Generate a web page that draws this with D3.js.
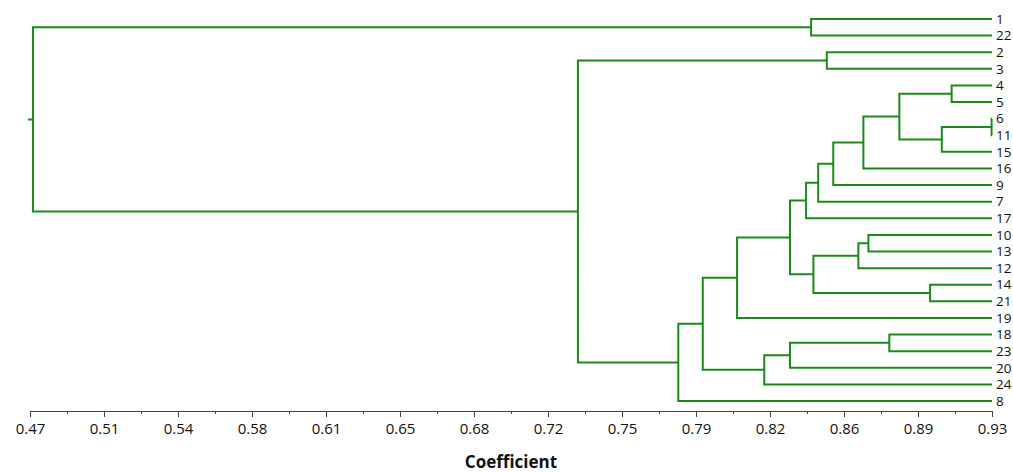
<!DOCTYPE html>
<meta charset="utf-8" />
<head>
  <script src="https://cdn.jsdelivr.net/npm/d3@7/dist/d3.min.js"></script>
  <title>Dendrogram</title>
  <style>
    body { margin: 0; background: #fff; }
    .axis--x path, .axis--x line { stroke: #444; }
    .axis--x text { font-family: "Open Sans", sans-serif; font-size: 15px; fill: #111; }
    .leaf { font-family: "Open Sans", sans-serif; font-size: 13.5px; fill: #111; }
  </style>
</head>
<body>
  <svg id="chart" width="1013" height="472"></svg>
</body>

<script>
  // leaf order, top to bottom
  const leaves = ["1", "22", "2", "3", "4", "5", "6", "11", "15", "16", "9", "7", "17",
    "10", "13", "12", "14", "21", "19", "18", "23", "20", "24", "8"];

  // merges: [id, left, right, coefficient]
  const merges = [
    ["n1", "6", "11", 0.9298],
    ["n2", "n1", "15", 0.906],
    ["n3", "4", "5", 0.9107],
    ["n4", "n3", "n2", 0.8857],
    ["n5", "n4", "16", 0.8685],
    ["n6", "n5", "9", 0.8541],
    ["n7", "n6", "7", 0.8469],
    ["n8", "n7", "17", 0.8411],
    ["n9", "10", "13", 0.8709],
    ["n10", "n9", "12", 0.8661],
    ["n11", "14", "21", 0.9004],
    ["n12", "n10", "n11", 0.8446],
    ["n13", "n8", "n12", 0.8334],
    ["n14", "n13", "19", 0.8081],
    ["n15", "18", "23", 0.8809],
    ["n16", "n15", "20", 0.8334],
    ["n17", "n16", "24", 0.8211],
    ["n18", "n14", "n17", 0.7917],
    ["n19", "n18", "8", 0.78],
    ["n20", "2", "3", 0.851],
    ["n21", "n20", "n19", 0.732],
    ["n22", "1", "22", 0.8435],
    ["n23", "n22", "n21", 0.4714],
  ];

  const tickLabels = ["0.47", "0.51", "0.54", "0.58", "0.61", "0.65", "0.68",
    "0.72", "0.75", "0.79", "0.82", "0.86", "0.89", "0.93"];

  const xMin = 0.47, xMax = 0.93;

  const svg = d3.select("#chart");
  const green = "#1b8a1b";

  const x = d3.scaleLinear().domain([xMin, xMax]).range([30, 992]);
  const y = d3.scalePoint().domain(leaves).range([19, 401]);

  // build node positions
  const pos = {};
  leaves.forEach((l) => (pos[l] = { x: x(xMax), y: y(l) }));

  const g = svg.append("g").attr("class", "tree");
  const path = d3.path();

  merges.forEach(([id, a, b, h]) => {
    const px = x(h);
    const A = pos[a], B = pos[b];
    path.moveTo(A.x, A.y);
    path.lineTo(px, A.y);
    path.lineTo(px, B.y);
    path.lineTo(B.x, B.y);
    pos[id] = { x: px, y: (A.y + B.y) / 2 };
  });

  // small stub at the root
  const root = pos[merges[merges.length - 1][0]];
  path.moveTo(root.x, root.y);
  path.lineTo(root.x - 5, root.y);

  g.append("path")
    .attr("d", path.toString())
    .attr("fill", "none")
    .attr("stroke", green)
    .attr("stroke-width", 2);

  g.selectAll(".leaf")
    .data(leaves)
    .enter()
    .append("text")
    .attr("class", "leaf")
    .attr("x", x(xMax) + 4)
    .attr("y", (d) => y(d))
    .attr("dy", "0.35em")
    .text((d) => d);

  // x axis
  const step = (xMax - xMin) / (tickLabels.length - 1);
  const majors = tickLabels.map((t, i) => xMin + i * step);
  const minors = majors.slice(1).map((v) => v - step / 2);

  const axisY = 411;

  svg
    .append("g")
    .attr("class", "axis--x")
    .attr("transform", `translate(0,${axisY})`)
    .call(d3.axisBottom(x).tickValues(minors).tickSize(3).tickSizeOuter(0).tickFormat(""));

  svg
    .append("g")
    .attr("class", "axis--x")
    .attr("transform", `translate(0,${axisY})`)
    .call(
      d3.axisBottom(x)
        .tickValues(majors)
        .tickSize(6)
        .tickSizeOuter(0)
        .tickPadding(6)
        .tickFormat((d, i) => tickLabels[i])
    );

  svg
    .append("text")
    .attr("x", (x.range()[0] + x.range()[1]) / 2)
    .attr("y", 468)
    .attr("text-anchor", "middle")
    .style("font-family", "'Open Sans', sans-serif")
    .style("font-size", "17px")
    .style("font-weight", "bold")
    .style("fill", "#111")
    .text("Coefficient");
</script>
